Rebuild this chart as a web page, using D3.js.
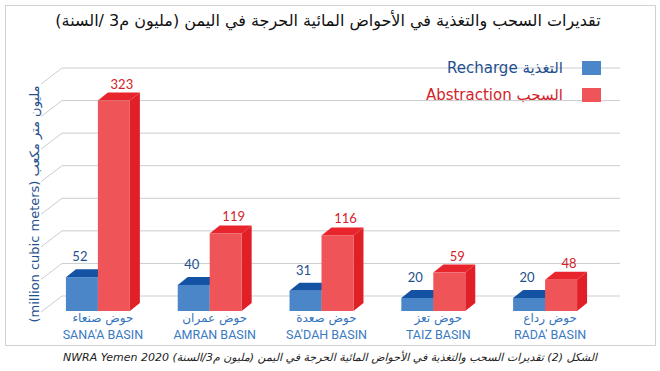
<!DOCTYPE html>
<head>
    <meta charset="utf-8">
    <title>Recharge vs Abstraction</title>
    <script src="https://d3js.org/d3.v7.min.js"></script>
    <style>
        body { margin: 0; background: #fff; }
        svg { display: block; }
    </style>
</head>
<body>
    <div id="container"></div>
    <script>
        //----------------------------DATA------------------------------//
        var basinsAr = ["حوض صنعاء", "حوض عمران", "حوض صعدة", "حوض تعز", "حوض رداع"];
        var basinsEn = ["SANA'A BASIN", "AMRAN BASIN", "SA'DAH BASIN", "TAIZ BASIN", "RADA' BASIN"];
        var recharge = [52, 40, 31, 20, 20];
        var abstraction = [323, 119, 116, 59, 48];
        var yTicks = [0, 50, 100, 150, 200, 250, 300, 350];
        var seriesKeys = ["recharge", "abstraction"];
        var seriesLabels = ["Recharge  التغذية", "Abstraction السحب"];

        //--------------------------SETUP-------------------------------//
        var W = 660, H = 371,
            wallDx = 20, wallDy = 15,   // depth of back wall
            barDx = 10, barDy = 8,      // depth of bars
            colors = {
                recharge: { front: "#4b86c9", top: "#1453a4", side: "#2f6ab3", text: "#1f4f8e" },
                abstraction: { front: "#ef5459", top: "#e8252d", side: "#e11f27", text: "#d3222a" }
            };

        var svg = d3.select("#container").append("svg")
            .attr("width", W).attr("height", H);

        // frame
        svg.append("rect")
            .attr("x", 5.5).attr("y", 5.5)
            .attr("width", 650).attr("height", 340)
            .attr("fill", "#fff")
            .attr("stroke", "#cfd2d4");

        var xScale = d3.scaleBand()
            .domain(basinsEn)
            .range([42, 601])
            .paddingInner(0.428)
            .paddingOuter(0.214);

        var xSub = d3.scaleBand()
            .domain(seriesKeys)
            .range([0, xScale.bandwidth()]);

        var yScale = d3.scaleLinear()
            .domain([0, 350])
            .range([311, 83]);

        //-------------------------TITLE--------------------------------//
        svg.append("text")
            .attr("x", 328).attr("y", 26)
            .attr("text-anchor", "middle")
            .attr("direction", "rtl")
            .style("font-family", "DejaVu Sans, sans-serif")
            .style("font-size", "16px")
            .attr("fill", "#111")
            .text("تقديرات السحب والتغذية في الأحواض المائية الحرجة في اليمن (مليون م3 /السنة)");

        //-------------------------GRID---------------------------------//
        var grid = svg.append("g");
        grid.selectAll(".hline")
            .data(yTicks)
            .enter().append("line")
            .attr("x1", 42 + wallDx).attr("x2", 620)
            .attr("y1", function (d) { return yScale(d) - wallDy; })
            .attr("y2", function (d) { return yScale(d) - wallDy; })
            .attr("stroke", "#c9cdd1").attr("stroke-width", 1);
        grid.selectAll(".dline")
            .data(yTicks)
            .enter().append("line")
            .attr("x1", 42 + wallDx)
            .attr("y1", function (d) { return yScale(d) - wallDy; })
            .attr("x2", 41)
            .attr("y2", function (d) { return yScale(d) + 1; })
            .attr("stroke", "#c9cdd1").attr("stroke-width", 1);

        //-------------------------LEGEND-------------------------------//
        var legend = svg.selectAll(".legend")
            .data(seriesKeys)
            .enter().append("g")
            .attr("transform", function (d, i) { return "translate(0," + (i * 27) + ")"; });
        legend.append("rect")
            .attr("x", 582).attr("y", 61)
            .attr("width", 19).attr("height", 14)
            .attr("fill", function (d) { return colors[d].front; });
        legend.append("text")
            .attr("x", 563).attr("y", 73)
            .attr("text-anchor", "end")
            .style("font-family", "DejaVu Sans, sans-serif")
            .style("font-size", "15px")
            .attr("fill", function (d) { return colors[d].text; })
            .text(function (d, i) { return seriesLabels[i]; });

        //-------------------------BARS---------------------------------//
        var rows = basinsEn.map(function (b, i) {
            return { basin: b, ar: basinsAr[i], values: [
                { key: "recharge", value: recharge[i] },
                { key: "abstraction", value: abstraction[i] }
            ] };
        });

        var groups = svg.selectAll(".basin")
            .data(rows)
            .enter().append("g")
            .attr("transform", function (d) { return "translate(" + xScale(d.basin) + ",0)"; });

        var bars = groups.selectAll(".bar")
            .data(function (d) { return d.values; })
            .enter().append("g");

        function pts(a) { return a.map(function (p) { return p.join(","); }).join(" "); }

        // side
        bars.append("polygon")
            .attr("points", function (d) {
                var x = xSub(d.key), w = xSub.bandwidth(), y = yScale(d.value), y0 = yScale(0);
                return pts([[x + w, y], [x + w + barDx, y - barDy], [x + w + barDx, y0 - barDy], [x + w, y0]]);
            })
            .attr("fill", function (d) { return colors[d.key].side; });
        // top
        bars.append("polygon")
            .attr("points", function (d) {
                var x = xSub(d.key), w = xSub.bandwidth(), y = yScale(d.value);
                return pts([[x, y], [x + barDx, y - barDy], [x + w + barDx, y - barDy], [x + w, y]]);
            })
            .attr("fill", function (d) { return colors[d.key].top; });
        // front
        bars.append("rect")
            .attr("x", function (d) { return xSub(d.key); })
            .attr("y", function (d) { return yScale(d.value); })
            .attr("width", xSub.bandwidth())
            .attr("height", function (d) { return yScale(0) - yScale(d.value); })
            .attr("fill", function (d) { return colors[d.key].front; });

        // value labels
        bars.append("text")
            .attr("x", function (d) {
                return xSub(d.key) + xSub.bandwidth() / 2 + (d.key === "abstraction" ? 8 : -2);
            })
            .attr("y", function (d) {
                return yScale(d.value) - barDy - (d.key === "abstraction" ? 4 : 8);
            })
            .attr("text-anchor", "middle")
            .style("font-family", "Lato, sans-serif")
            .style("font-size", "13px")
            .attr("fill", function (d) { return colors[d.key].text; })
            .text(function (d) { return d.value; });

        //-------------------------X LABELS-----------------------------//
        groups.append("text")
            .attr("x", xScale.bandwidth() / 2 + 5)
            .attr("y", 322)
            .attr("text-anchor", "middle")
            .attr("direction", "rtl")
            .style("font-family", "DejaVu Sans, sans-serif")
            .style("font-size", "12px")
            .attr("fill", "#3473bd")
            .text(function (d) { return d.ar; });
        groups.append("text")
            .attr("x", xScale.bandwidth() / 2 + 5)
            .attr("y", 339)
            .attr("text-anchor", "middle")
            .style("font-family", "Roboto, sans-serif")
            .style("font-size", "12.5px")
            .attr("fill", "#3a7ac2")
            .text(function (d) { return d.basin; });

        //-------------------------Y TITLE------------------------------//
        svg.append("text")
            .attr("transform", "translate(39,204) rotate(-90)")
            .attr("text-anchor", "middle")
            .style("font-family", "DejaVu Sans, sans-serif")
            .style("font-size", "13px")
            .attr("fill", "#1f4f8e")
            .text("(million cubic meters) مليون متر مكعب");

        //-------------------------CAPTION------------------------------//
        svg.append("text")
            .attr("x", 330).attr("y", 361)
            .attr("text-anchor", "middle")
            .attr("direction", "rtl")
            .style("font-family", "DejaVu Sans, sans-serif")
            .style("font-size", "11px")
            .style("font-style", "italic")
            .attr("fill", "#222")
            .text("الشكل (2) تقديرات السحب والتغذية في الأحواض المائية الحرجة في اليمن (مليون م3/السنة) NWRA Yemen 2020");
    </script>
</body>
